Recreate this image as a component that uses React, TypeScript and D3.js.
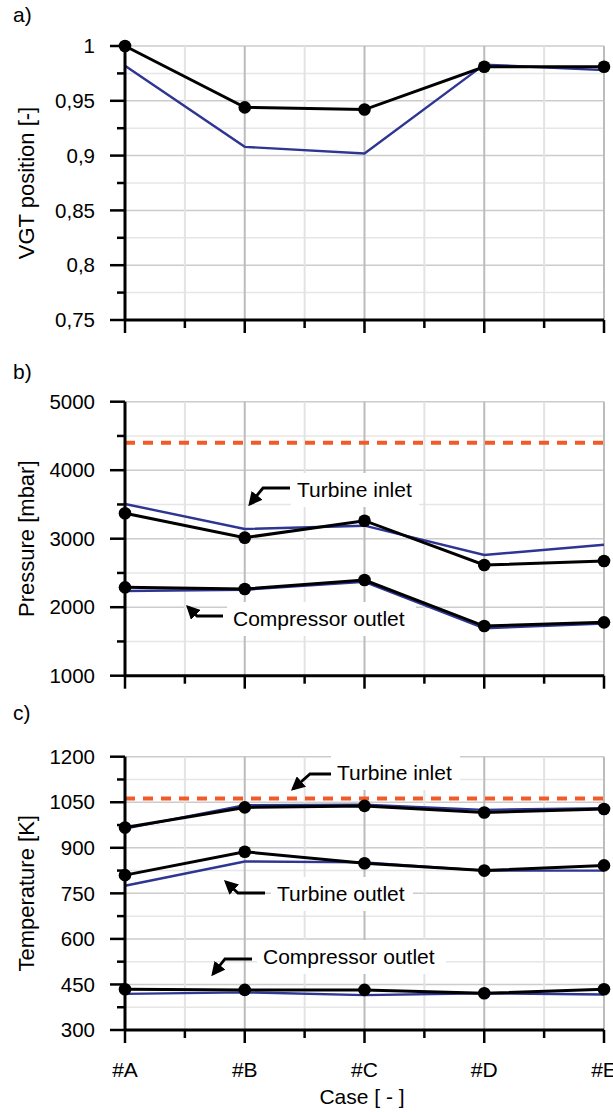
import React from 'react';
import * as d3 from 'd3';

const categories = ['#A', '#B', '#C', '#D', '#E'];

// Panel a) VGT position
const vgtMeasured = [1.0, 0.944, 0.942, 0.981, 0.981];
const vgtModel = [0.982, 0.908, 0.902, 0.983, 0.978];
const vgtTicks = [0.75, 0.8, 0.85, 0.9, 0.95, 1.0];

// Panel b) Pressure
const pTurbInMeasured = [3371, 3015, 3263, 2616, 2675];
const pTurbInModel = [3507, 3142, 3190, 2762, 2912];
const pCompOutMeasured = [2290, 2265, 2397, 1725, 1779];
const pCompOutModel = [2236, 2255, 2370, 1692, 1760];
const pLimit = 4400;
const pTicks = [1000, 2000, 3000, 4000, 5000];

// Panel c) Temperature
const tTurbInMeasured = [967, 1033, 1038, 1016, 1028];
const tTurbInModel = [963, 1040, 1042, 1025, 1030];
const tTurbOutMeasured = [810, 887, 849, 825, 842];
const tTurbOutModel = [775, 855, 852, 825, 825];
const tCompOutMeasured = [434, 432, 432, 421, 434];
const tCompOutModel = [419, 424, 415, 421, 417];
const tLimit = 1062;
const tTicks = [300, 450, 600, 750, 900, 1050, 1200];

const FONT = 'Liberation Sans, Arial, sans-serif';
const BLUE = '#2e3592';
const ORANGE = '#f15a29';

const x = d3.scalePoint<string>().domain(categories).range([125, 604]);

type Ann = { text: string; tx: number; ty: number; w: number; x0: number; x1: number; y1: number; tipX: number; tipY: number };

type PanelProps = {
  label: string;
  labelY: number;
  title: string;
  top: number;
  bottom: number;
  domain: [number, number];
  ticks: number[];
  fmt: (v: number) => string;
  limit?: number;
  series: { measured: number[]; model: number[] }[];
  anns: Ann[];
  showX?: boolean;
};

function Panel(p: PanelProps) {
  const y = d3.scaleLinear().domain(p.domain).range([p.bottom, p.top]);
  const step = p.ticks[1] - p.ticks[0];
  const minor: number[] = [];
  for (let i = 0; i < p.ticks.length - 1; i++) minor.push(p.ticks[i] + step / 2);
  const xs = categories.map((c) => x(c) as number);
  const mids: number[] = [];
  for (let i = 0; i < xs.length - 1; i++) mids.push((xs[i] + xs[i + 1]) / 2);
  const line = d3
    .line<number>()
    .x((_, i) => xs[i])
    .y((v) => y(v));
  const left = xs[0];
  const right = xs[xs.length - 1];
  const titleY = (p.top + p.bottom) / 2;
  return (
    <g>
      <text x={13} y={p.labelY} fontSize={21} fontFamily={FONT}>{p.label}</text>
      {minor.map((v, i) => (
        <line key={'hm' + i} x1={left} x2={right} y1={y(v)} y2={y(v)} stroke="#e6e6e6" strokeWidth={1.5} />
      ))}
      {p.ticks.map((v, i) => (
        <line key={'hM' + i} x1={left} x2={right} y1={y(v)} y2={y(v)} stroke="#cccccc" strokeWidth={1.5} />
      ))}
      {mids.map((v, i) => (
        <line key={'vm' + i} x1={v} x2={v} y1={p.top} y2={p.bottom} stroke="#e3e3e3" strokeWidth={2} />
      ))}
      {xs.map((v, i) => (
        <line key={'vM' + i} x1={v} x2={v} y1={p.top} y2={p.bottom} stroke="#bcbcbc" strokeWidth={2} />
      ))}
      {p.anns.map((a, i) => (
        <rect key={'ab' + i} x={a.tx - 6} y={a.ty - 17} width={a.w + 12} height={34} fill="#fff" />
      ))}
      {p.limit !== undefined && (
        <line x1={left} x2={right} y1={y(p.limit)} y2={y(p.limit)} stroke={ORANGE} strokeWidth={4} strokeDasharray="10 8" />
      )}
      {p.series.map((s, i) => (
        <path key={'b' + i} d={line(s.model) || ''} fill="none" stroke={BLUE} strokeWidth={2.4} />
      ))}
      {p.series.map((s, i) => (
        <path key={'k' + i} d={line(s.measured) || ''} fill="none" stroke="#000" strokeWidth={3} />
      ))}
      {p.series.map((s, i) =>
        s.measured.map((v, j) => <circle key={'c' + i + '-' + j} cx={xs[j]} cy={y(v)} r={6.3} fill="#000" />)
      )}
      {p.anns.map((a, i) => (
        <g key={'a' + i}>
          <text x={a.tx} y={a.ty} dy="0.35em" fontSize={21} fontFamily={FONT}>{a.text}</text>
          <path d={`M${a.x0},${a.y1}L${a.x1},${a.y1}L${a.tipX},${a.tipY}`} fill="none" stroke="#000" strokeWidth={2.8} markerEnd="url(#arr)" />
        </g>
      ))}
      <line x1={left} x2={left} y1={p.top} y2={p.bottom} stroke="#000" strokeWidth={3} />
      <line x1={left} x2={right} y1={p.bottom} y2={p.bottom} stroke="#000" strokeWidth={3} />
      {p.ticks.map((v, i) => (
        <g key={'yt' + i}>
          <line x1={left - 15} x2={left} y1={y(v)} y2={y(v)} stroke="#000" strokeWidth={2.5} />
          <text x={95} y={y(v)} dy="0.35em" textAnchor="end" fontSize={20.5} fontFamily={FONT}>{p.fmt(v)}</text>
        </g>
      ))}
      {minor.map((v, i) => (
        <line key={'ymt' + i} x1={left - 8} x2={left} y1={y(v)} y2={y(v)} stroke="#000" strokeWidth={2.5} />
      ))}
      {xs.map((v, i) => (
        <line key={'xt' + i} x1={v} x2={v} y1={p.bottom} y2={p.bottom + 13} stroke="#000" strokeWidth={2.5} />
      ))}
      {mids.map((v, i) => (
        <line key={'xmt' + i} x1={v} x2={v} y1={p.bottom} y2={p.bottom + 8} stroke="#000" strokeWidth={2.5} />
      ))}
      {p.showX &&
        categories.map((c, i) => (
          <text key={'xl' + i} x={xs[i]} y={p.bottom + 47} textAnchor="middle" fontSize={21} fontFamily={FONT}>{c}</text>
        ))}
      <text transform={`translate(34,${titleY}) rotate(-90)`} textAnchor="middle" fontSize={22} fontFamily={FONT}>{p.title}</text>
    </g>
  );
}

const comma = (v: number) => String(+v.toFixed(2)).replace('.', ',');

export default function App() {
  return (
    <svg width={613} height={1112} style={{ position: 'absolute', left: 0, top: 0, background: '#fff' }}>
      <defs>
        <marker id="arr" viewBox="0 0 10 10" refX="8" refY="5" markerWidth="5" markerHeight="5" orient="auto" markerUnits="strokeWidth">
          <path d="M0,0L10,5L0,10z" fill="#000" />
        </marker>
      </defs>
      <rect width={613} height={1112} fill="#fff" />
      <Panel
        label="a)"
        labelY={22}
        title="VGT position [-]"
        top={46}
        bottom={320}
        domain={[0.75, 1]}
        ticks={vgtTicks}
        fmt={comma}
        series={[{ measured: vgtMeasured, model: vgtModel }]}
        anns={[]}
      />
      <Panel
        label="b)"
        labelY={379}
        title="Pressure [mbar]"
        top={401.7}
        bottom={675.7}
        domain={[1000, 5000]}
        ticks={pTicks}
        fmt={(v) => String(v)}
        limit={pLimit}
        series={[
          { measured: pTurbInMeasured, model: pTurbInModel },
          { measured: pCompOutMeasured, model: pCompOutModel },
        ]}
        anns={[
          { text: 'Turbine inlet', tx: 297, ty: 490, w: 116, x0: 290, x1: 263, y1: 488, tipX: 250, tipY: 504 },
          { text: 'Compressor outlet', tx: 233, ty: 619, w: 177, x0: 223, x1: 197, y1: 616, tipX: 188, tipY: 607 },
        ]}
      />
      <Panel
        label="c)"
        labelY={720}
        title="Temperature [K]"
        top={756.7}
        bottom={1030}
        domain={[300, 1200]}
        ticks={tTicks}
        fmt={(v) => String(v)}
        limit={tLimit}
        series={[
          { measured: tTurbInMeasured, model: tTurbInModel },
          { measured: tTurbOutMeasured, model: tTurbOutModel },
          { measured: tCompOutMeasured, model: tCompOutModel },
        ]}
        anns={[
          { text: 'Turbine inlet', tx: 337, ty: 773, w: 117, x0: 331, x1: 310, y1: 774, tipX: 293, tipY: 789 },
          { text: 'Turbine outlet', tx: 277, ty: 894, w: 130, x0: 265, x1: 238, y1: 893, tipX: 226, tipY: 882 },
          { text: 'Compressor outlet', tx: 263, ty: 957, w: 177, x0: 252, x1: 225, y1: 959, tipX: 213, tipY: 974 },
        ]}
        showX
      />
      <text x={362} y={1104} textAnchor="middle" fontSize={21} fontFamily={FONT}>Case [ - ]</text>
    </svg>
  );
}
